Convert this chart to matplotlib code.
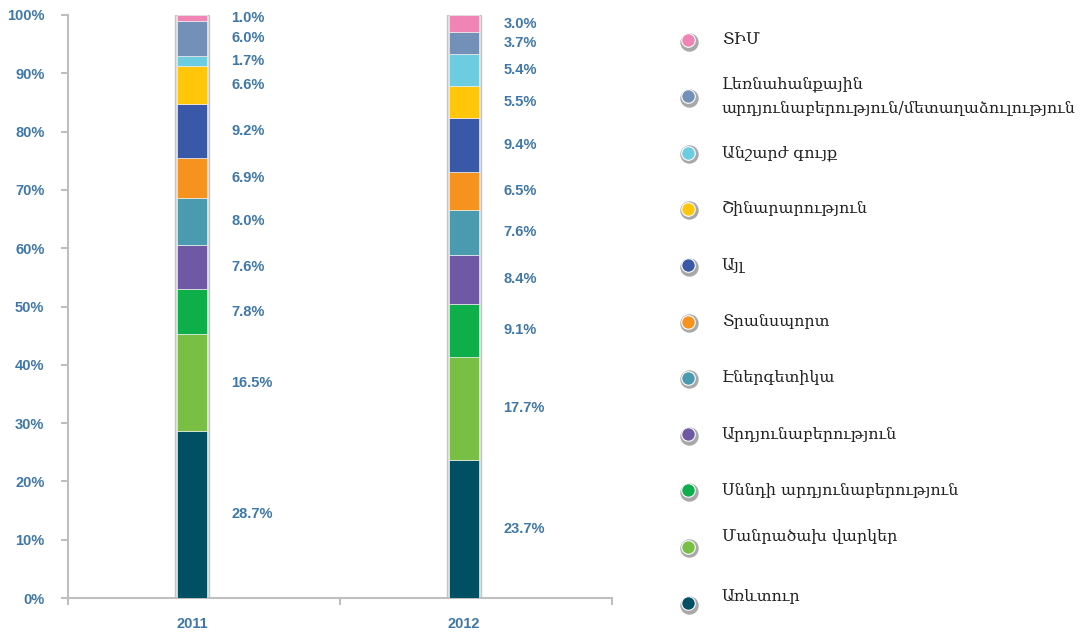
import numpy as np
import matplotlib.pyplot as plt

# data (bottom to top of each bar)
years = ['2011', '2012']
sectors = ['Առևտուր', 'Մանրածախ վարկեր', 'Սննդի արդյունաբերություն',
           'Արդյունաբերություն', 'Էներգետիկա', 'Տրանսպորտ', 'Այլ',
           'Շինարարություն', 'Անշարժ գույք',
           'Լեռնահանքային\nարդյունաբերություն/մետաղաձուլություն', 'ՏԻՄ']
share_2011 = [28.7, 16.5, 7.8, 7.6, 8.0, 6.9, 9.2, 6.6, 1.7, 6.0, 1.0]
share_2012 = [23.7, 17.7, 9.1, 8.4, 7.6, 6.5, 9.4, 5.5, 5.4, 3.7, 3.0]
y_ticks = [0, 10, 20, 30, 40, 50, 60, 70, 80, 90, 100]

colors = ['#004f63', '#78bf44', '#0eae4a', '#6f58a4', '#4a9bb0', '#f6921e',
          '#3a58a8', '#ffc60a', '#6ccde0', '#7391b8', '#ef84b5']
text_color = '#3f78a8'

fig = plt.figure(figsize=(10.82, 6.33), dpi=100)
ax = fig.add_axes([68 / 1082, 1 - 598 / 633, (612 - 68) / 1082, (598 - 15) / 633])

data = np.array([share_2011, share_2012])
x = np.arange(len(years))
bar_w = 0.11

# light frame behind each bar
ax.bar(x, data.sum(axis=1), bar_w + 0.012, color='#e6e6e6',
       edgecolor='#c4c4c4', linewidth=1.0, zorder=2)

bottom = np.zeros(len(years))
for i, name in enumerate(sectors):
    vals = data[:, i]
    ax.bar(x, vals, bar_w, bottom=bottom, color=colors[i],
           edgecolor='#eeeeee', linewidth=0.5, zorder=3)
    for j in range(len(years)):
        ax.text(x[j] + bar_w / 2 + 0.09, bottom[j] + vals[j] / 2, f'{vals[j]:.1f}%',
                ha='left', va='center', fontsize=10.5, fontweight='bold',
                color=text_color, family='Liberation Sans')
    bottom += vals

ax.set_ylim(0, 100)
ax.set_xlim(-0.456, 1.544)
ax.set_yticks(y_ticks)
ax.set_yticklabels([f'{t}%' for t in y_ticks])
ax.set_xticks(x)
ax.set_xticklabels(years)
ax.set_xticks([-0.456, 0.544, 1.544], minor=True)
ax.tick_params(axis='x', which='major', length=0, pad=14)
ax.tick_params(axis='x', which='minor', length=5, width=1.5, color='#bfbfbf')
ax.tick_params(axis='y', length=5, width=1.5, color='#bfbfbf', pad=12)
for lab in ax.get_xticklabels() + ax.get_yticklabels():
    lab.set_fontsize(10.5)
    lab.set_fontweight('bold')
    lab.set_color(text_color)
    lab.set_family('Liberation Sans')
for s in ['top', 'right']:
    ax.spines[s].set_visible(False)
for s in ['left', 'bottom']:
    ax.spines[s].set_color('#bfbfbf')
    ax.spines[s].set_linewidth(1.5)

# legend drawn on an overlay axes in pixel coordinates
lg = fig.add_axes([0, 0, 1, 1])
lg.set_xlim(0, 1082)
lg.set_ylim(633, 0)
lg.axis('off')
text_shift = {1: -10, 0: -6}
n = len(sectors)
for k in range(n):
    i = n - 1 - k
    y = 40 + k * 56.3
    lg.scatter(689, y + 1.5, s=150, color='#a8a8a8', zorder=1)
    lg.scatter(688, y, s=95, color=colors[i], edgecolor='white', linewidth=0.8, zorder=2)
    lg.text(722, y + text_shift.get(i, 0), sectors[i], ha='left', va='center',
            fontsize=11.4, family='DejaVu Serif', color='#222222', linespacing=1.55)

fig.savefig('out.png', dpi=100)
